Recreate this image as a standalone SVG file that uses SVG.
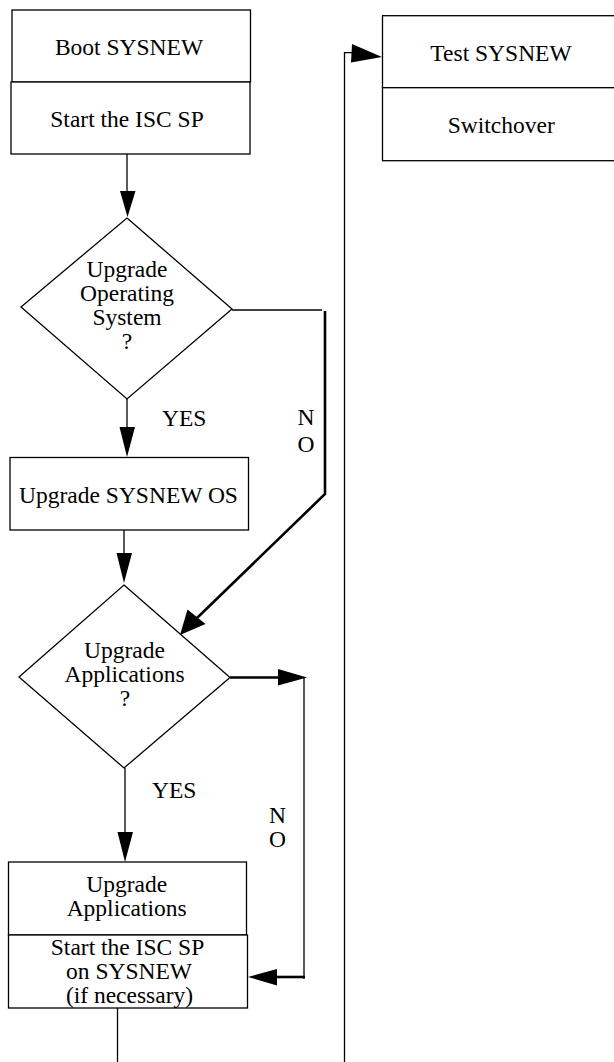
<svg xmlns="http://www.w3.org/2000/svg" width="614" height="1062" viewBox="0 0 614 1062">
<style>
.box{fill:#fff;stroke:#000;stroke-width:1.3}
.t{font-family:"Liberation Serif","Times New Roman",serif;font-size:23.5px;fill:#000;text-anchor:middle}
.ts{font-family:"Liberation Serif","Times New Roman",serif;font-size:23.5px;fill:#000}
.ln{fill:none;stroke:#000;stroke-width:1.3}
.thk{fill:none;stroke:#000;stroke-width:2.6}
.ah{fill:#000;stroke:none}
</style>
<rect width="614" height="1062" fill="#fff"/>
<g id="connectors">
  <line class="ln" x1="127" y1="154" x2="127" y2="194"/>
  <polygon class="ah" points="120,191 135.5,191 127.5,217"/>
  <line class="ln" x1="127" y1="399" x2="127" y2="430"/>
  <polygon class="ah" points="119.5,427 135,427 127,457"/>
  <polyline class="ln" points="232,310 322,310"/>
  <polyline class="thk" points="325,311 325,494 197,618"/>
  <polygon class="ah" points="187.5,609.5 205.5,624 180,635"/>
  <line class="ln" x1="124" y1="530" x2="124" y2="556"/>
  <polygon class="ah" points="116.5,553 132,553 124,583"/>
  <line class="thk" x1="230" y1="677.5" x2="280" y2="677.5"/>
  <polygon class="ah" points="278,669 307,677.5 278,685.5"/>
  <line class="ln" x1="304" y1="677.5" x2="304" y2="979"/>
  <line class="thk" x1="305" y1="977" x2="275" y2="977"/>
  <polygon class="ah" points="277,969 248,977 277,985.5"/>
  <line class="ln" x1="125" y1="768" x2="125" y2="834"/>
  <polygon class="ah" points="117.5,832 133,832 125,862"/>
  <line class="ln" x1="117.5" y1="1008" x2="117.5" y2="1062"/>
  <polyline class="ln" points="344.5,1062 344.5,52.7 353,52.7"/>
  <polygon class="ah" points="352,44 382,57 351,62.5"/>
</g>
<g id="boot">
  <rect class="box" x="12" y="10" width="238.5" height="72"/>
  <text class="t" x="129" y="55">Boot SYSNEW</text>
</g>
<g id="startisc">
  <rect class="box" x="11" y="82" width="239" height="72"/>
  <text class="t" x="127" y="127">Start the ISC SP</text>
</g>
<g id="decision-os">
  <polygon class="box" points="127,218 232,309 127,399 21,307"/>
  <text class="t"><tspan x="127" y="277">Upgrade</tspan><tspan x="127" y="301">Operating</tspan><tspan x="127" y="325">System</tspan><tspan x="127" y="349">?</tspan></text>
</g>
<g id="upgrade-os">
  <rect class="box" x="10" y="457.5" width="238.5" height="72.5"/>
  <text class="t" x="128.5" y="503">Upgrade SYSNEW OS</text>
</g>
<g id="decision-apps">
  <polygon class="box" points="124,585 230,677.5 124,768 19,677"/>
  <text class="t"><tspan x="124.5" y="658">Upgrade</tspan><tspan x="124.5" y="682">Applications</tspan><tspan x="125" y="706">?</tspan></text>
</g>
<g id="upgrade-apps">
  <rect class="box" x="8.5" y="862" width="238" height="73"/>
  <text class="t"><tspan x="126.7" y="891.5">Upgrade</tspan><tspan x="126.7" y="915.5">Applications</tspan></text>
</g>
<g id="startisc-new">
  <rect class="box" x="8.5" y="935" width="239" height="73"/>
  <text class="t"><tspan x="127.5" y="954.5">Start the ISC SP</tspan><tspan x="129" y="978.5">on SYSNEW</tspan><tspan x="129.5" y="1002.5">(if necessary)</tspan></text>
</g>
<g id="test">
  <rect class="box" x="382.5" y="15.7" width="240" height="72"/>
  <text class="t" x="501" y="60.5">Test SYSNEW</text>
</g>
<g id="switchover">
  <rect class="box" x="382.5" y="87.7" width="240" height="73"/>
  <text class="t" x="501.3" y="132.5">Switchover</text>
</g>
<g id="labels">
  <text class="ts" x="162" y="426">YES</text>
  <text class="t"><tspan x="306" y="425">N</tspan><tspan x="306" y="452">O</tspan></text>
  <text class="ts" x="152" y="798">YES</text>
  <text class="t"><tspan x="277.5" y="823">N</tspan><tspan x="277.5" y="847">O</tspan></text>
</g>
</svg>
